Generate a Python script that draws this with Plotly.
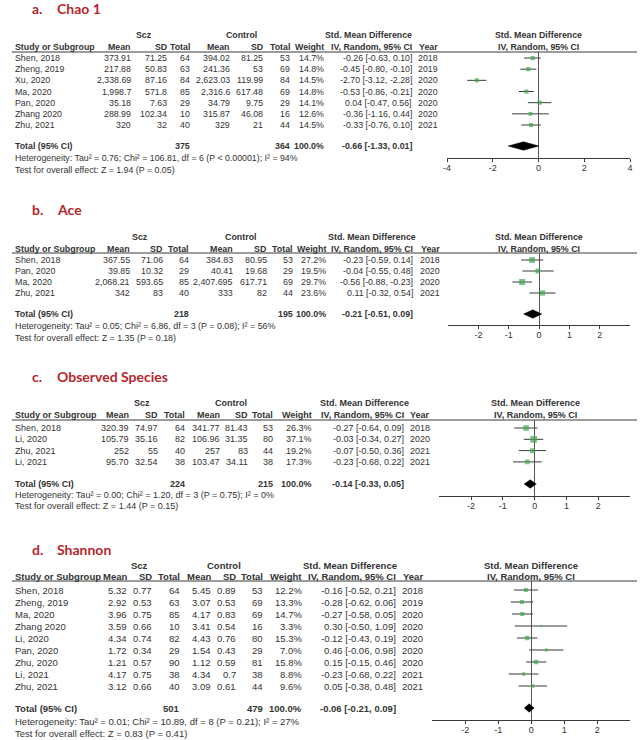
import plotly.graph_objects as go
import math

W, H = 642, 740
FONT = "Arial, Liberation Sans, sans-serif"
TXT = "#333333"
RED = "#b5262c"
GREEN = "#3faa4f"
LINE = "#3a3a3a"

# ---------------- data: a. Chao 1 ----------------
a_study = ["Shen, 2018", "Zheng, 2019", "Xu, 2020", "Ma, 2020", "Pan, 2020", "Zhang 2020", "Zhu, 2021"]
a_scz_mean = ["373.91", "217.88", "2,338.69", "1,998.7", "35.18", "288.99", "320"]
a_scz_sd = ["71.25", "50.83", "87.16", "571.8", "7.63", "102.34", "32"]
a_scz_n = [64, 63, 84, 85, 29, 10, 40]
a_ctl_mean = ["394.02", "241.36", "2,623.03", "2,316.6", "34.79", "315.87", "329"]
a_ctl_sd = ["81.25", "53", "119.99", "617.48", "9.75", "46.08", "21"]
a_ctl_n = [53, 69, 84, 69, 29, 16, 44]
a_weight = [14.7, 14.8, 14.5, 14.8, 14.1, 12.6, 14.5]
a_smd = [-0.26, -0.45, -2.70, -0.53, 0.04, -0.36, -0.33]
a_lo = [-0.63, -0.80, -3.12, -0.86, -0.47, -1.16, -0.76]
a_hi = [0.10, -0.10, -2.28, -0.21, 0.56, 0.44, 0.10]
a_year = [2018, 2019, 2020, 2020, 2020, 2020, 2021]
a_total = [375, 364]
a_pooled = [-0.66, -1.33, 0.01]
a_het = "Heterogeneity: Tau² = 0.76; Chi² = 106.81, df = 6 (P < 0.00001); I² = 94%"
a_test = "Test for overall effect: Z = 1.94 (P = 0.05)"
a_ticks = [-4, -2, 0, 2, 4]
a_range = [-4, 4]

# ---------------- data: b. Ace ----------------
b_study = ["Shen, 2018", "Pan, 2020", "Ma, 2020", "Zhu, 2021"]
b_scz_mean = ["367.55", "39.85", "2,068.21", "342"]
b_scz_sd = ["71.06", "10.32", "593.65", "83"]
b_scz_n = [64, 29, 85, 40]
b_ctl_mean = ["384.83", "40.41", "2,407.695", "333"]
b_ctl_sd = ["80.95", "19.68", "617.71", "82"]
b_ctl_n = [53, 29, 69, 44]
b_weight = [27.2, 19.5, 29.7, 23.6]
b_smd = [-0.23, -0.04, -0.56, 0.11]
b_lo = [-0.59, -0.55, -0.88, -0.32]
b_hi = [0.14, 0.48, -0.23, 0.54]
b_year = [2018, 2020, 2020, 2021]
b_total = [218, 195]
b_pooled = [-0.21, -0.51, 0.09]
b_het = "Heterogeneity: Tau² = 0.05; Chi² = 6.86, df = 3 (P = 0.08); I² = 56%"
b_test = "Test for overall effect: Z = 1.35 (P = 0.18)"
b_ticks = [-2, -1, 0, 1, 2]
b_range = [-3, 3]

# ---------------- data: c. Observed Species ----------------
c_study = ["Shen, 2018", "Li, 2020", "Zhu, 2021", "Li, 2021"]
c_scz_mean = ["320.39", "105.79", "252", "95.70"]
c_scz_sd = ["74.97", "35.16", "55", "32.54"]
c_scz_n = [64, 82, 40, 38]
c_ctl_mean = ["341.77", "106.96", "257", "103.47"]
c_ctl_sd = ["81.43", "31.35", "83", "34.11"]
c_ctl_n = [53, 80, 44, 38]
c_weight = [26.3, 37.1, 19.2, 17.3]
c_smd = [-0.27, -0.03, -0.07, -0.23]
c_lo = [-0.64, -0.34, -0.50, -0.68]
c_hi = [0.09, 0.27, 0.36, 0.22]
c_year = [2018, 2020, 2021, 2021]
c_total = [224, 215]
c_pooled = [-0.14, -0.33, 0.05]
c_het = "Heterogeneity: Tau² = 0.00; Chi² = 1.20, df = 3 (P = 0.75); I² = 0%"
c_test = "Test for overall effect: Z = 1.44 (P = 0.15)"
c_ticks = [-2, -1, 0, 1, 2]
c_range = [-3, 3]

# ---------------- data: d. Shannon ----------------
d_study = ["Shen, 2018", "Zheng, 2019", "Ma, 2020", "Zhang 2020", "Li, 2020", "Pan, 2020", "Zhu, 2020", "Li, 2021", "Zhu, 2021"]
d_scz_mean = ["5.32", "2.92", "3.96", "3.59", "4.34", "1.72", "1.21", "4.17", "3.12"]
d_scz_sd = ["0.77", "0.53", "0.75", "0.66", "0.74", "0.34", "0.57", "0.75", "0.66"]
d_scz_n = [64, 63, 85, 10, 82, 29, 90, 38, 40]
d_ctl_mean = ["5.45", "3.07", "4.17", "3.41", "4.43", "1.54", "1.12", "4.34", "3.09"]
d_ctl_sd = ["0.89", "0.53", "0.83", "0.54", "0.76", "0.43", "0.59", "0.7", "0.61"]
d_ctl_n = [53, 69, 69, 16, 80, 29, 81, 38, 44]
d_weight = [12.2, 13.3, 14.7, 3.3, 15.3, 7.0, 15.8, 8.8, 9.6]
d_smd = [-0.16, -0.28, -0.27, 0.30, -0.12, 0.46, 0.15, -0.23, 0.05]
d_lo = [-0.52, -0.62, -0.58, -0.50, -0.43, -0.06, -0.15, -0.68, -0.38]
d_hi = [0.21, 0.06, 0.05, 1.09, 0.19, 0.98, 0.46, 0.22, 0.48]
d_year = [2018, 2019, 2020, 2020, 2020, 2020, 2020, 2021, 2021]
d_total = [501, 479]
d_pooled = [-0.06, -0.21, 0.09]
d_het = "Heterogeneity: Tau² = 0.01; Chi² = 10.89, df = 8 (P = 0.21); I² = 27%"
d_test = "Test for overall effect: Z = 0.83 (P = 0.41)"
d_ticks = [-2, -1, 0, 1, 2]
d_range = [-3, 3]

panels = [
    dict(letter="a.", title="Chao 1", study=a_study, sm=a_scz_mean, ss=a_scz_sd, sn=a_scz_n,
         cm=a_ctl_mean, cs=a_ctl_sd, cn=a_ctl_n, w=a_weight, smd=a_smd, lo=a_lo, hi=a_hi,
         year=a_year, total=a_total, pooled=a_pooled, het=a_het, test=a_test, ticks=a_ticks, rng=a_range),
    dict(letter="b.", title="Ace", study=b_study, sm=b_scz_mean, ss=b_scz_sd, sn=b_scz_n,
         cm=b_ctl_mean, cs=b_ctl_sd, cn=b_ctl_n, w=b_weight, smd=b_smd, lo=b_lo, hi=b_hi,
         year=b_year, total=b_total, pooled=b_pooled, het=b_het, test=b_test, ticks=b_ticks, rng=b_range),
    dict(letter="c.", title="Observed Species", study=c_study, sm=c_scz_mean, ss=c_scz_sd, sn=c_scz_n,
         cm=c_ctl_mean, cs=c_ctl_sd, cn=c_ctl_n, w=c_weight, smd=c_smd, lo=c_lo, hi=c_hi,
         year=c_year, total=c_total, pooled=c_pooled, het=c_het, test=c_test, ticks=c_ticks, rng=c_range),
    dict(letter="d.", title="Shannon", study=d_study, sm=d_scz_mean, ss=d_scz_sd, sn=d_scz_n,
         cm=d_ctl_mean, cs=d_ctl_sd, cn=d_ctl_n, w=d_weight, smd=d_smd, lo=d_lo, hi=d_hi,
         year=d_year, total=d_total, pooled=d_pooled, het=d_het, test=d_test, ticks=d_ticks, rng=d_range),
]

# ---------------- layout positions (page pixels) ----------------
geo = [
    dict(title_y=9, hdr1=35, hdr2=47, line=52, row0=58, sp=11.17, tot=146, het=158, test=170, axis=158,
         mean_r=129, sd_r=166, n_r=189, cmean_r=230, csd_r=263, cn_r=290, w_r=325, scz_c=142, ctl_c=240,
         smd_c=369, ci_r=414, year_r=440, fc=540, ax0=448, ax1=633, fs=8.8),
    dict(title_y=209, hdr1=237, hdr2=249, line=253, row0=260, sp=11.0, tot=314, het=326, test=338, axis=325,
         mean_r=128, sd_r=162, n_r=188, cmean_r=233, csd_r=267, cn_r=293, w_r=327, scz_c=138, ctl_c=240,
         smd_c=372, ci_r=415, year_r=442, fc=541, ax0=449, ax1=633, fs=8.9),
    dict(title_y=376, hdr1=403, hdr2=415, line=420, row0=428, sp=11.3, tot=484, het=495, test=506, axis=496,
         mean_r=127, sd_r=157, n_r=184, cmean_r=219, csd_r=248, cn_r=273, w_r=312, scz_c=140, ctl_c=230,
         smd_c=364, ci_r=405, year_r=432, fc=537, ax0=440, ax1=633, fs=9.0),
    dict(title_y=549, hdr1=565, hdr2=576, line=581, row0=590, sp=12.0, tot=708, het=721, test=733, axis=720,
         mean_r=125, sd_r=151, n_r=179, cmean_r=210, csd_r=236, cn_r=263, w_r=302, scz_c=137, ctl_c=222,
         smd_c=350, ci_r=397, year_r=425, fc=533, ax0=433, ax1=633, fs=9.5),
]


def fx(x):
    return x / W


def fy(y):
    return 1 - y / H


ann = []
shapes = []


def txt(x, y, s, anchor="left", bold=False, size=8.4, color=TXT, family=FONT):
    ann.append(dict(x=fx(x), y=fy(y), xref="paper", yref="paper",
                    text=f"<b>{s}</b>" if bold else s, showarrow=False,
                    xanchor=anchor, yanchor="middle", borderpad=0,
                    font=dict(size=size, color=color, family=family)))


fig = go.Figure()
layout_axes = {}

for k, (p, g) in enumerate(zip(panels, geo), start=1):
    fs = g["fs"]
    # title
    txt(27, g["title_y"], p["letter"], bold=True, size=14, color=RED, family="Lato")
    txt(53, g["title_y"], p["title"], bold=True, size=14, color=RED, family="Lato")
    # header rows
    txt(g["scz_c"], g["hdr1"], "Scz", "center", True, fs)
    txt(g["ctl_c"], g["hdr1"], "Control", "center", True, fs)
    txt(g["smd_c"], g["hdr1"], "Std. Mean Difference", "center", True, fs)
    txt(g["fc"], g["hdr1"], "Std. Mean Difference", "center", True, fs)
    h2 = g["hdr2"]
    txt(10, h2, "Study or Subgroup", "left", True, fs)
    txt(g["mean_r"], h2, "Mean", "right", True, fs)
    txt(g["sd_r"], h2, "SD", "right", True, fs)
    txt(g["n_r"], h2, "Total", "right", True, fs)
    txt(g["cmean_r"], h2, "Mean", "right", True, fs)
    txt(g["csd_r"], h2, "SD", "right", True, fs)
    txt(g["cn_r"], h2, "Total", "right", True, fs)
    txt(g["w_r"], h2, "Weight", "right", True, fs)
    txt(g["ci_r"], h2, "IV, Random, 95% CI", "right", True, fs)
    txt(g["year_r"], h2, "Year", "right", True, fs)
    txt(g["fc"], h2, "IV, Random, 95% CI", "center", True, fs)
    shapes.append(dict(type="line", xref="paper", yref="paper", x0=fx(8), x1=fx(640),
                       y0=fy(g["line"]), y1=fy(g["line"]),
                       line=dict(color=LINE, width=1)))
    # rows
    n = len(p["study"])
    for i in range(n):
        y = g["row0"] + i * g["sp"]
        txt(10, y, p["study"][i], "left", False, fs)
        txt(g["mean_r"], y, p["sm"][i], "right", False, fs)
        txt(g["sd_r"], y, p["ss"][i], "right", False, fs)
        txt(g["n_r"], y, str(p["sn"][i]), "right", False, fs)
        txt(g["cmean_r"], y, p["cm"][i], "right", False, fs)
        txt(g["csd_r"], y, p["cs"][i], "right", False, fs)
        txt(g["cn_r"], y, str(p["cn"][i]), "right", False, fs)
        txt(g["w_r"], y, f"{p['w'][i]:.1f}%", "right", False, fs)
        txt(g["ci_r"], y, f"{p['smd'][i]:.2f} [{p['lo'][i]:.2f}, {p['hi'][i]:.2f}]", "right", False, fs)
        txt(g["year_r"], y, str(p["year"][i]), "right", False, fs)
    # totals
    pe, plo, phi = p["pooled"]
    txt(10, g["tot"], "Total (95% CI)", "left", True, fs)
    txt(g["n_r"], g["tot"], str(p["total"][0]), "right", True, fs)
    txt(g["cn_r"], g["tot"], str(p["total"][1]), "right", True, fs)
    txt(g["w_r"], g["tot"], "100.0%", "right", True, fs)
    txt(g["ci_r"], g["tot"], f"{pe:.2f} [{plo:.2f}, {phi:.2f}]", "right", True, fs)
    txt(10, g["het"], p["het"], "left", False, fs)
    txt(10, g["test"], p["test"], "left", False, fs)

    # forest plot
    xa = "x" if k == 1 else f"x{k}"
    ya = "y" if k == 1 else f"y{k}"
    rows = list(range(n))
    t_idx = (g["tot"] - g["row0"]) / g["sp"]
    cx, cy = [], []
    for i in rows:
        cx += [p["lo"][i], p["hi"][i], None]
        cy += [i, i, None]
    fig.add_trace(go.Scatter(x=cx, y=cy, mode="lines", line=dict(color=LINE, width=1),
                             xaxis=xa, yaxis=ya, hoverinfo="skip", showlegend=False))
    fig.add_trace(go.Scatter(x=p["smd"], y=rows, mode="markers",
                             marker=dict(symbol="square", color=GREEN,
                                         size=[max(2.0, 1.1 * math.sqrt(w)) for w in p["w"]],
                                         line=dict(width=0)),
                             xaxis=xa, yaxis=ya, showlegend=False))
    hh = 4.2 / g["sp"]
    fig.add_trace(go.Scatter(x=[plo, pe, phi, pe, plo], y=[t_idx, t_idx - hh, t_idx, t_idx + hh, t_idx],
                             mode="lines", fill="toself", fillcolor="black",
                             line=dict(color="black", width=0.5),
                             xaxis=xa, yaxis=ya, hoverinfo="skip", showlegend=False))
    top = (g["line"] - g["row0"]) / g["sp"]
    bot = (g["axis"] - g["row0"]) / g["sp"]
    xkey = "xaxis" if k == 1 else f"xaxis{k}"
    ykey = "yaxis" if k == 1 else f"yaxis{k}"
    dom = [fx(g["ax0"]), fx(g["ax1"])]
    layout_axes[xkey] = dict(domain=dom, range=p["rng"], anchor=ya, showline=True, linecolor=LINE,
                             linewidth=1, ticks="outside", ticklen=3, tickcolor=LINE, tickwidth=1,
                             ticklabelstandoff=-2,
                             tickvals=p["ticks"], ticktext=[str(t) for t in p["ticks"]],
                             tickfont=dict(size=9, color=TXT, family=FONT), showgrid=False,
                             zeroline=True, zerolinecolor="#555555", zerolinewidth=1, fixedrange=True)
    # second, label-less axis on the same scale: gives the upward half of the crossing tick marks
    layout_axes[f"xaxis{k + 4}"] = dict(domain=dom, range=p["rng"], anchor=ya, overlaying=xa,
                                        ticks="inside", ticklen=3, tickcolor=LINE, tickwidth=1,
                                        tickvals=p["ticks"], showticklabels=False, showline=False,
                                        showgrid=False, zeroline=False, fixedrange=True)
    layout_axes[ykey] = dict(domain=[fy(g["axis"]), fy(g["line"])], range=[bot, top],
                             anchor=xa, visible=False, showgrid=False, zeroline=False, fixedrange=True)

fig.update_layout(width=W, height=H, margin=dict(l=0, r=0, t=0, b=0),
                  paper_bgcolor="white", plot_bgcolor="rgba(0,0,0,0)",
                  annotations=ann, shapes=shapes, showlegend=False, **layout_axes)

# remove the browser's default 8px body margin so the figure fills the 642x740 window
fig.write_html("out.html", config={"displayModeBar": False},
               post_script="document.body.style.margin='0';document.body.style.padding='0';")
